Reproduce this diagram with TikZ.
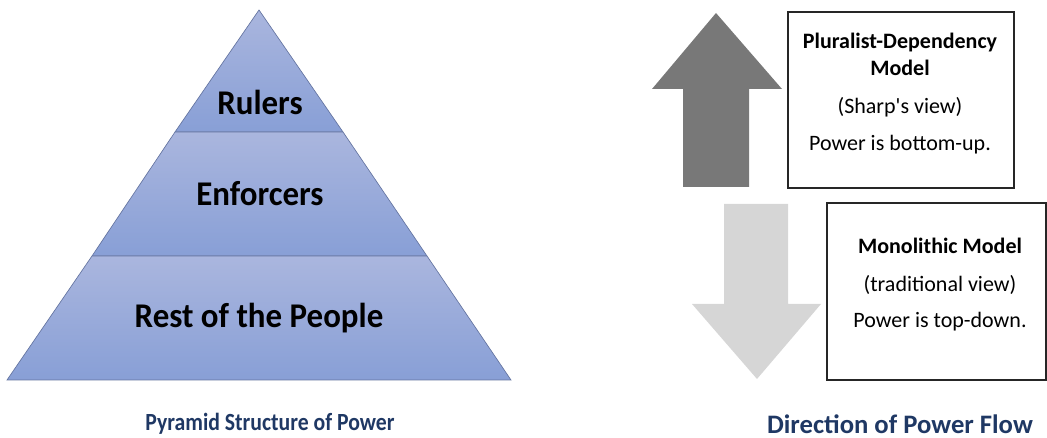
\documentclass[tikz,border=0pt]{standalone}
\usepackage{fontspec}
\setmainfont{Carlito}
\usepackage{tikz}
\usetikzlibrary{positioning}

\definecolor{bandtop}{RGB}{170,182,222}
\definecolor{bandbot}{RGB}{136,159,214}
\definecolor{bandline}{RGB}{100,116,160}
\definecolor{navy}{RGB}{31,56,100}
\definecolor{updark}{RGB}{120,120,120}
\definecolor{downlight}{RGB}{214,214,214}

\tikzset{
  band/.style={top color=bandtop, bottom color=bandbot, draw=bandline, line width=0.5pt},
  layertext/.style={font=\fontsize{26}{29}\selectfont\bfseries, xscale=0.95},
  caption/.style={font=\fontsize{20}{23}\selectfont\bfseries, text=navy},
  modelbox/.style={draw=black!85, line width=0.9pt, inner sep=0pt},
  boxhead/.style={font=\fontsize{16.5}{19}\selectfont\bfseries},
  boxline/.style={font=\fontsize{16.5}{19}\selectfont}
}

\begin{document}
\begin{tikzpicture}[x=0.75pt,y=0.75pt,yscale=-1,xscale=1]
\useasboundingbox (0,0) rectangle (1047,438);

%Shape: pyramid bands
\shade[band] (259,10) -- (343,132) -- (175,132) -- cycle ;
\shade[band] (175,132) -- (343,132) -- (427,256) -- (92,256) -- cycle ;
\shade[band] (92,256) -- (427,256) -- (511,380) -- (7,380) -- cycle ;

\node[layertext] (rulers) at (260,102) {Rulers};
\node[layertext] (enforcers) at (260,194) {Enforcers};
\node[layertext] (people) at (259,318) {Rest of the People};

\node[caption, font=\fontsize{18.5}{21}\selectfont\bfseries, xscale=0.88] (pyrcap) at (270,424) {Pyramid Structure of Power};

%Shape: up arrow
\fill[updark] (716,13) -- (782,89) -- (749,89) -- (749,187) -- (683,187) -- (683,89) -- (652,89) -- cycle ;
%Shape: down arrow
\fill[downlight] (724,204) -- (788,204) -- (788,304) -- (821,304) -- (757,379) -- (692,304) -- (724,304) -- cycle ;

%Shape: boxes
\node[modelbox, minimum width=226*0.75pt, minimum height=176*0.75pt] (plural) at (901,100) {};
\node[modelbox, minimum width=219*0.75pt, minimum height=177*0.75pt] (mono) at (936.5,291.5) {};

\node[boxhead] (pluralA) at (900,43) {Pluralist-Dependency};
\node[boxhead] (pluralB) at (900,68) {Model};
\node[boxline] (pluralC) at (900,107) {(Sharp\textquotesingle s view)};
\node[boxline] (pluralD) at (900,145) {Power is bottom-up.};

\node[boxhead] (monoA) at (940,246) {Monolithic Model};
\node[boxline] (monoB) at (940,285) {(traditional view)};
\node[boxline] (monoC) at (940,322) {Power is top-down.};

\node[caption] (flowcap) at (900,424) {Direction of Power Flow};

\end{tikzpicture}
\end{document}
